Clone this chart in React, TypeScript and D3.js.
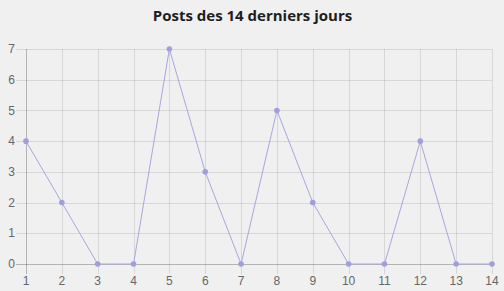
import React from "react";
import * as d3 from "d3";

const days = ["1","2","3","4","5","6","7","8","9","10","11","12","13","14"];
const posts = [4, 2, 0, 0, 7, 3, 0, 5, 2, 0, 0, 4, 0, 0];
const yTicks = [0, 1, 2, 3, 4, 5, 6, 7];
const title = "Posts des 14 derniers jours";

const W = 504, H = 291;
const left = 26, right = 492, top = 49, bottom = 264;

export default function App() {
  const x = d3.scalePoint<string>().domain(days).range([left, right]);
  const y = d3.scaleLinear().domain([0, 7]).range([bottom, top]);
  const line = d3.line<number>().x((_, i) => x(days[i]) as number).y(d => y(d));
  const font = "'Liberation Sans', Arial, sans-serif";
  return (
    <svg width={W} height={H} style={{ position: "absolute", left: 0, top: 0, background: "#f0f0f0" }}>
      <rect width={W} height={H} fill="#f0f0f0" />
      <text x={252.5} y={20.5} textAnchor="middle" fontFamily="'Open Sans', 'Noto Sans', sans-serif" fontWeight="bold" fontSize={15} fill="#1e1e1e">{title}</text>
      {yTicks.map(t => (
        <g key={"y" + t}>
          <line x1={left - 10} x2={right} y1={Math.round(y(t)) + 0.5} y2={Math.round(y(t)) + 0.5}
            stroke={t === 0 ? "rgba(0,0,0,0.25)" : "rgba(0,0,0,0.1)"} />
          <text x={left - 11} y={y(t)} dy="0.35em" textAnchor="end" fontFamily={font} fontSize={12} fill="#666">{t}</text>
        </g>
      ))}
      {days.map((d, i) => {
        const xv = Math.round(x(d) as number) + 0.5;
        return (
          <g key={"x" + d}>
            <line x1={xv} x2={xv} y1={top} y2={bottom + 10}
              stroke={i === 0 ? "rgba(0,0,0,0.25)" : "rgba(0,0,0,0.1)"} />
            <text x={x(d)} y={285} textAnchor="middle" fontFamily={font} fontSize={12} fill="#666">{d}</text>
          </g>
        );
      })}
      <path d={line(posts) || ""} fill="none" stroke="#a9a6dc" strokeWidth={1} />
      {posts.map((v, i) => (
        <circle key={"p" + i} cx={x(days[i])} cy={y(v)} r={2.8} fill="#a09fdc" />
      ))}
    </svg>
  );
}
